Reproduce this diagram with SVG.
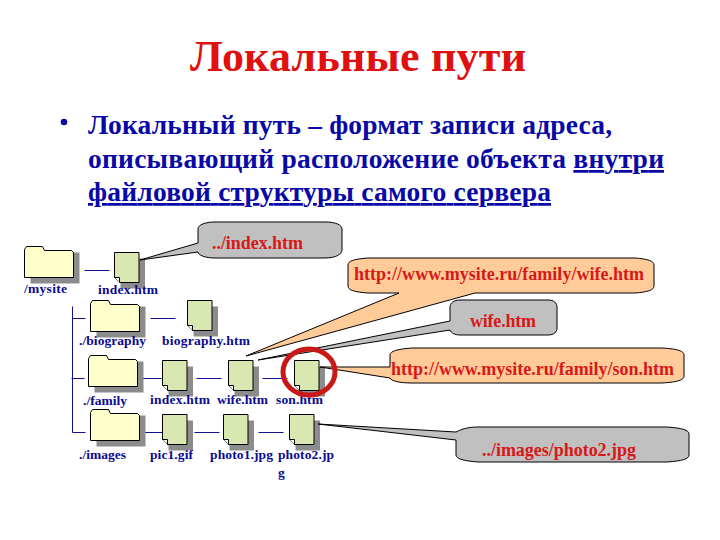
<svg xmlns="http://www.w3.org/2000/svg" width="720" height="540" viewBox="0 0 720 540">
<style>
text{font-family:"Liberation Serif","Times New Roman",serif;font-weight:bold}
.title{font-size:44px;fill:#e01010}
.body{font-size:27.500px;fill:#0808a8}
.lab{font-size:13.500px;fill:#0a0a90}
.call{font-size:18px;fill:#d81818}
.sh{fill:#8c8c8c}
.folder{fill:#ffffcc;stroke:#000;stroke-width:1}
.file{fill:#d9e8b0;stroke:#000;stroke-width:1}
.conn{stroke:#101090;stroke-width:1;fill:none}
.gray{fill:#c0c0c0;stroke:#000;stroke-width:1}
.peach{fill:#ffcc99;stroke:#000;stroke-width:1}
</style>
<defs>
<g id="fld">
<rect class="sh" x="6" y="6" width="49" height="31"/>
<path class="folder" d="M0,31V3L2,0H18L20,4H47L49,6V31Z"/>
</g>
<g id="fil">
<rect class="sh" x="6" y="6" width="24.500" height="30"/>
<path class="file" d="M0,0H24.500V30H5L0,25Z"/>
<path d="M0,25L5,25V30" fill="#fff" stroke="#000"/>
</g>
</defs>
<rect width="720" height="540" fill="#fff"/>
<text class="title" x="190" y="71" textLength="336">Локальные пути</text>
<g id="bullet-text">
<circle cx="64" cy="122" r="3.300" fill="#0808a8"/>
<text class="body" x="88" y="134" textLength="524">Локальный путь – формат записи адреса,</text>
<text class="body" x="88" y="168" textLength="576">описывающий расположение объекта <tspan text-decoration="underline">внутри</tspan></text>
<text class="body" x="88" y="201" text-decoration="underline" textLength="463">файловой структуры самого сервера</text>
</g>
<g id="connectors" transform="translate(.5 .5)">
<path class="conn" d="M84,270H109M150,318H175M72,306V432M72,318H85M71,378H84M72,432H85M137,378H161M196,378H221M262,378H287M139,432H162M194,432H219M258,432H283"/>
</g>
<g id="n-mysite"><use href="#fld" x="24.500" y="246.500"/><text class="lab" x="24" y="293" textLength="43">/mysite</text></g>
<g id="n-index"><use href="#fil" x="114.500" y="252.500"/><text class="lab" x="98" y="294" textLength="60">index.htm</text></g>
<g id="n-biography"><use href="#fld" x="90.500" y="300.500"/><text class="lab" x="79" y="345" textLength="67">./biography</text></g>
<g id="n-biography-htm"><use href="#fil" x="187.500" y="300.500"/><text class="lab" x="162" y="345" textLength="88">biography.htm</text></g>
<g id="n-family"><use href="#fld" x="88.500" y="355.500"/><text class="lab" x="83" y="405" textLength="44">./family</text></g>
<g id="n-family-index"><use href="#fil" x="162.500" y="360.500"/><text class="lab" x="150" y="404" textLength="60">index.htm</text></g>
<g id="n-wife"><use href="#fil" x="228.500" y="360.500"/><text class="lab" x="217" y="404" textLength="51">wife.htm</text></g>
<g id="n-son"><use href="#fil" x="294.500" y="360.500"/><text class="lab" x="276" y="404" textLength="47">son.htm</text></g>
<g id="n-images"><use href="#fld" x="90.500" y="409.500"/><text class="lab" x="79" y="459" textLength="47">./images</text></g>
<g id="n-pic1"><use href="#fil" x="162.500" y="414.500"/><text class="lab" x="150" y="459" textLength="43">pic1.gif</text></g>
<g id="n-photo1"><use href="#fil" x="223.500" y="414.500"/><text class="lab" x="210" y="459" textLength="63">photo1.jpg</text></g>
<g id="n-photo2"><use href="#fil" x="289.500" y="414.500"/><text class="lab" x="278" y="459" textLength="56">photo2.jp</text><text class="lab" x="278" y="477">g</text></g>
<g id="c-index">
<path class="gray" d="M198,243L140,260L198,252C198,255 205,258 215,258H325C336,258 342,254 342,250V229C342,225 336,222 325,222H215C205,222 198,225 198,229Z"/>
<text class="call" x="212" y="249" textLength="91">../index.htm</text>
</g>
<g id="c-wife-url">
<path class="peach" d="M399,293L246,356L475,293H635C648,292 654,290 654,286V265C654,261 648,259 635,258H368C354,259 348,261 348,265V286C348,290 354,292 368,293Z"/>
<text class="call" x="354" y="280" textLength="290">http://www.mysite.ru/family/wife.htm</text>
</g>
<g id="c-wife">
<path class="gray" d="M450,321L258,360L450,330C451,333 455,335 460,335H548C554,335 557,332 557,328V307C557,303 554,300 548,300H460C454,300 450,303 450,307Z"/>
<text class="call" x="470" y="327" textLength="66">wife.htm</text>
</g>
<g id="c-son-url">
<path class="peach" d="M390,367L320,367L390,378C391,381 400,383 412,383H662C678,382 684,380 684,376V355C684,351 678,349 662,348H412C398,349 390,351 390,355Z"/>
<text class="call" x="391" y="375" textLength="283">http://www.mysite.ru/family/son.htm</text>
</g>
<g id="c-images">
<path class="gray" d="M456,432L318,424L456,440V455C456,459 465,461 478,462H667C682,461 689,459 689,455V434C689,430 682,428 667,427H478C468,427 462,429 456,432Z"/>
<text class="call" x="482" y="456" textLength="154">../images/photo2.jpg</text>
</g>
<ellipse id="highlight" cx="309" cy="372" rx="26" ry="23" fill="none" stroke="#c81818" stroke-width="5"/>
</svg>
